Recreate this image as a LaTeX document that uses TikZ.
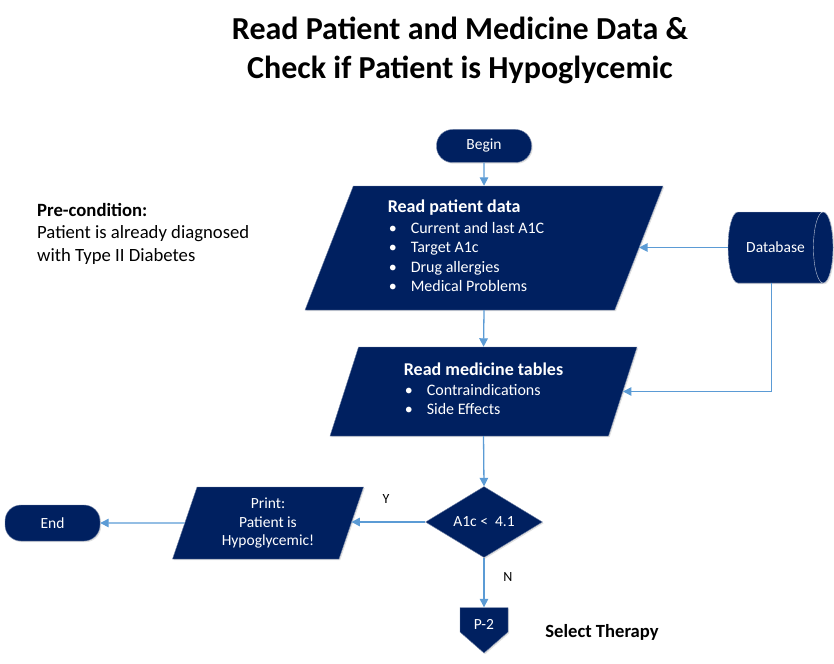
\documentclass[tikz,border=0pt]{standalone}
\usepackage{fontspec}
\setmainfont{Carlito}
\usetikzlibrary{shapes.geometric,arrows.meta,shadows,calc}
\definecolor{navy}{HTML}{002060}
\definecolor{lblue}{HTML}{5B9BD5}
\newcommand{\fsz}[2]{\fontsize{#1}{#2}\selectfont}
\newcommand{\bitem}{\makebox[23pt][l]{\hspace{1pt}•}}
\begin{document}
\begin{tikzpicture}[x=1pt,y=-1pt,
  shp/.style={fill=navy, draw=navy!55!white, line width=0.4pt, text=white, inner sep=0pt,
    drop shadow={shadow xshift=1.2pt, shadow yshift=-1.2pt, opacity=0.25, fill=gray}},
  term/.style={shp, rounded corners=16pt, minimum width=95pt, font=\fsz{15.5}{19}},
  io/.style={shp, trapezium, trapezium left angle=64, trapezium right angle=116,
    trapezium stretches body=true},
  flow/.style={draw=lblue, line width=1.3pt, -{Triangle[width=8.5pt,length=8.5pt]}},
  lbl/.style={font=\fsz{14}{17}, text=black}
]
\useasboundingbox (0,0) rectangle (834,663);

\node[font=\fsz{32}{39}\bfseries, align=center] (title) at (460,50.5)
  {Read Patient and Medicine Data \&\\Check if Patient is Hypoglycemic};

\node[font=\fsz{18.7}{22.5}, align=left, anchor=north west, inner sep=0pt] (pre) at (37,203)
  {\textbf{Pre-condition:}\\Patient is already diagnosed\\with Type II Diabetes};

\node[term, minimum height=33pt] (begin) at (484,146) {\raisebox{-1pt}{Begin}};

\node[io, minimum width=358pt, minimum height=124pt, font=\fsz{16}{19.5}] (pd) at (484,248)
  {\begin{tabular}{@{}l@{\hspace{36pt}}}
   {\fsz{18}{20}\bfseries Read patient data}\\[1.5pt]
   \bitem Current and last A1C\\
   \bitem Target A1c\\
   \bitem Drug allergies\\
   \bitem Medical Problems
   \end{tabular}};

\node[io, minimum width=307pt, minimum height=89pt, font=\fsz{16}{19.5}] (med) at (483.5,391.5)
  {\begin{tabular}{@{}l@{}}
   {\fsz{18}{20}\bfseries Read medicine tables}\\
   \bitem Contraindications\\
   \bitem Side Effects
   \end{tabular}};

\node[shp, cylinder, aspect=1.8, minimum width=71pt, minimum height=105pt,
  cylinder uses custom fill, cylinder body fill=navy, cylinder end fill=navy,
  draw=white!75!navy, font=\fsz{15.5}{19}] (db) at (775.5,247.5) {Database};

\node[shp, diamond, aspect=1.65, minimum width=117pt, minimum height=71pt,
  font=\fsz{15.5}{19}] (dec) at (484,522) {A1c <\ \ 4.1};

\node[io, minimum width=191pt, minimum height=72pt, align=center,
  font=\fsz{15.5}{18.5}] (pr) at (268,523) {Print:\\Patient is\\Hypoglycemic!};

\node[term, minimum height=36pt] (end) at (52.5,523) {End};

\fill[navy, draw=navy!55!white, line width=0.4pt,
  drop shadow={shadow xshift=1.2pt, shadow yshift=-1.2pt, opacity=0.25, fill=gray}]
  (460,607.5) -- (508,607.5) -- (508,632) -- (484,653) -- (460,632) -- cycle;
\node[font=\fsz{15.5}{19}, text=white, minimum width=48pt, minimum height=33pt,
  inner sep=0pt] (p2) at (484,624) {P-2};

\node[font=\fsz{18.6}{22}\bfseries] (sel) at (602,632) {Select Therapy};

\node[lbl] (ylab) at (386,499) {Y};
\node[lbl] (nlab) at (508,577) {N};

\draw[flow] (begin.south) -- (pd.north);
\draw[flow] (db.west) -- (db.west -| pd.east);
\draw[flow] (pd.south) -- (med.north);
\draw[flow] ([xshift=-4pt]db.south) |- (med.east);
\draw[flow] (med.south) -- (dec.north);
\draw[flow] (dec.west) -- (dec.west -| pr.east);
\draw[flow] (pr.west) -- (end.east);
\draw[flow] (dec.south) -- (p2.north);
\end{tikzpicture}
\end{document}
